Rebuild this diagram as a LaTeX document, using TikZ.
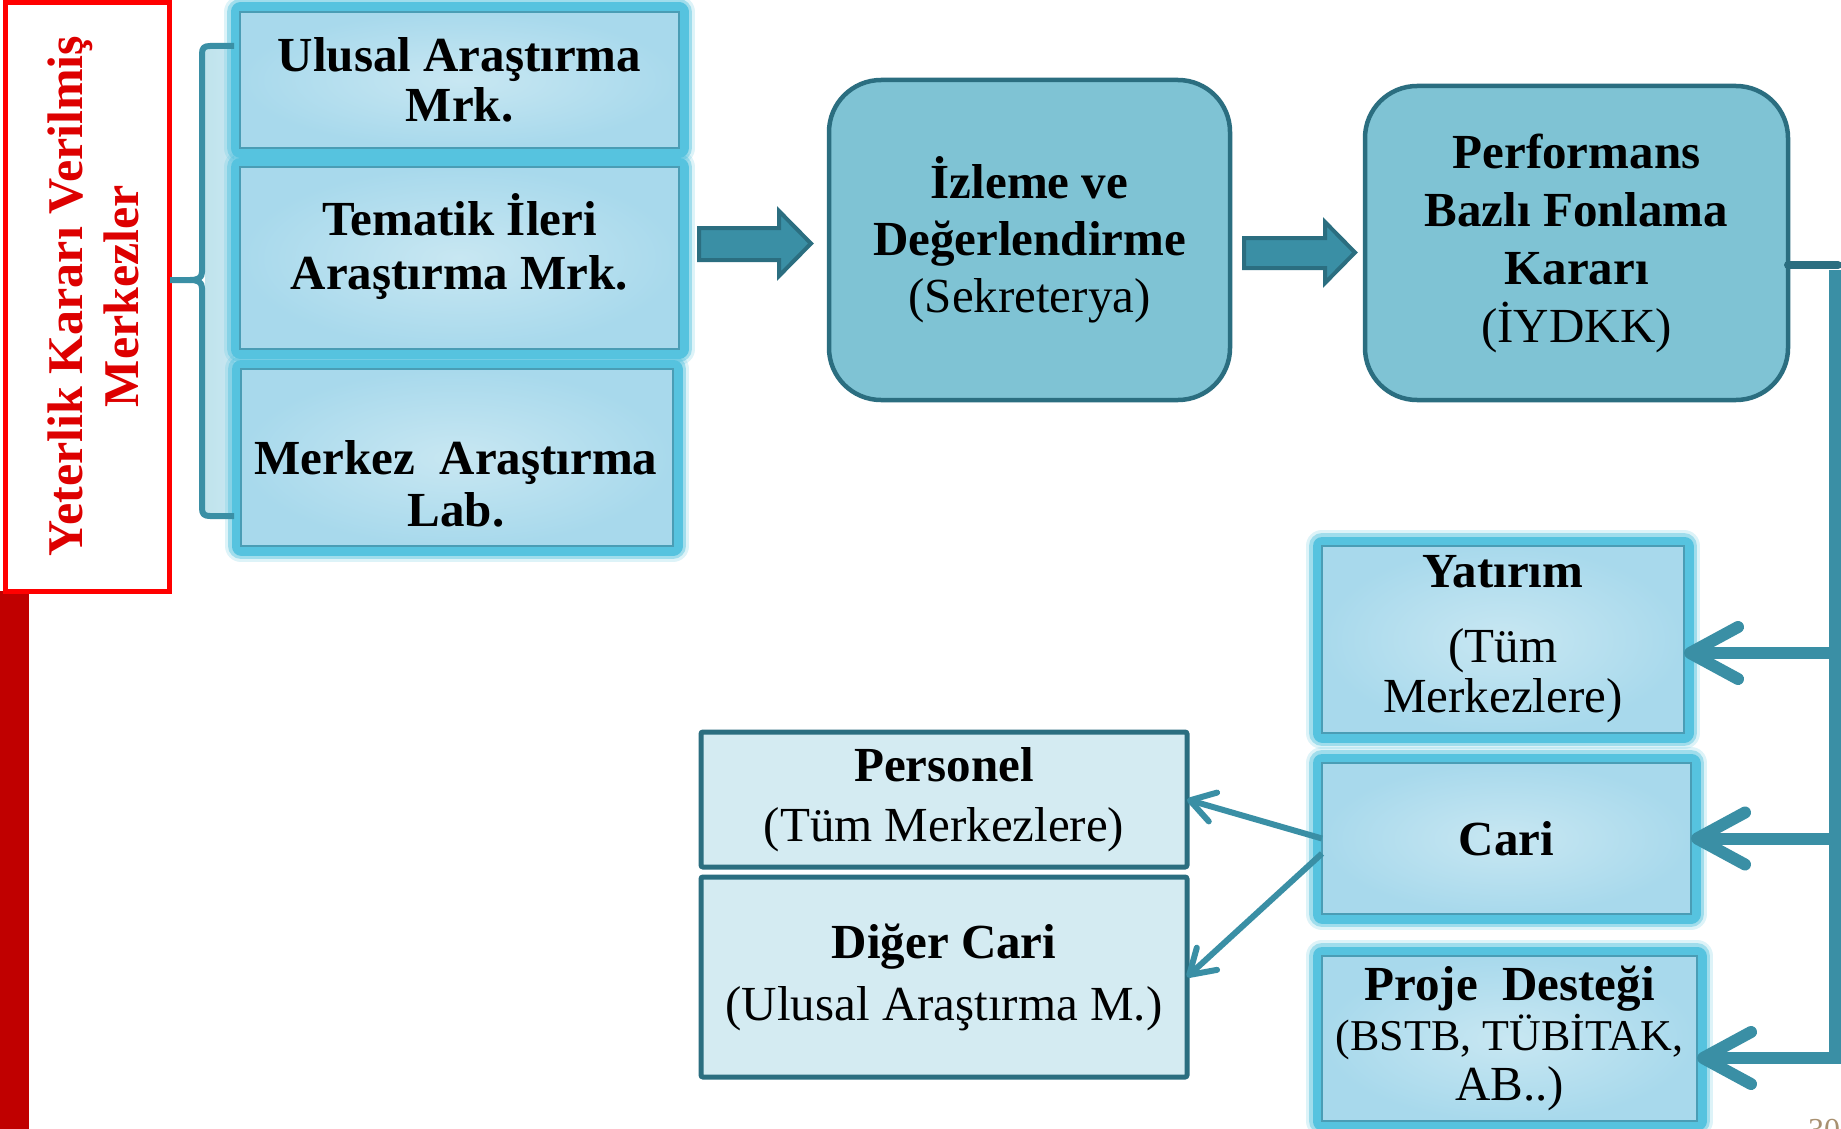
\documentclass[tikz,border=0pt]{standalone}
\usepackage{fontspec}
\setmainfont{Liberation Serif}
\usetikzlibrary{arrows.meta,backgrounds}

\definecolor{teala}{HTML}{3A8FA5}
\definecolor{tealb}{HTML}{2B6E80}
\definecolor{roundfill}{HTML}{7FC3D4}
\definecolor{glowc}{HTML}{56C3DF}
\definecolor{boxin}{HTML}{C8E7F2}
\definecolor{boxout}{HTML}{A8D9EC}
\definecolor{boxedge}{HTML}{4A9DB5}
\definecolor{palefill}{HTML}{D4EBF2}
\definecolor{redtext}{HTML}{DD0000}
\definecolor{redbar}{HTML}{C00000}
\definecolor{bracefill}{HTML}{BFE3EC}
\definecolor{pagenum}{HTML}{A89070}

\tikzset{
  glowbox/.style={rectangle, inner sep=0pt, outer sep=0pt, draw=boxedge, line width=1.5pt,
    inner color=boxin, outer color=boxout, align=center,
    font=\fontsize{49}{50}\selectfont},
  plaintext/.style={inner sep=0pt, align=center, font=\fontsize{49}{50}\selectfont},
  roundbox/.style={rectangle, rounded corners=52pt, draw=tealb, line width=4.5pt,
    fill=roundfill, inner sep=0pt, outer sep=0pt, align=center},
  palebox/.style={rectangle, rounded corners=2pt, draw=tealb, line width=5pt,
    fill=palefill, inner sep=0pt, outer sep=0pt, align=center},
  blockarr/.style={fill=teala, draw=tealb, line width=4pt, line join=miter},
  glowa/.style={draw=glowc, line width=32pt, draw opacity=0.2, line join=round},
  glowb/.style={draw=glowc, line width=26pt, draw opacity=0.45, line join=round},
  glowd/.style={draw=glowc, line width=19pt, line join=round},
  busline/.style={draw=teala, line width=12pt},
  bigarrow/.style={draw=teala, line width=12pt,
    -{Straight Barb[length=48pt, width=52pt, round]}},
  smallarrow/.style={draw=teala, line width=6pt,
    -{Straight Barb[length=24pt, width=30pt, round]}},
}

\begin{document}
\begin{tikzpicture}[x=1pt,y=-1pt]
\useasboundingbox (0,0) rectangle (1841,1129);

% left red side
\fill[redbar] (0,591) rectangle (29,1129);
\node[draw=red, line width=5pt, minimum width=164pt, minimum height=588pt,
      inner sep=0pt, outer sep=0pt] (redbox) at (87,297) {};
\node[rotate=90, align=center, text=redtext, inner sep=0pt,
      font=\bfseries\fontsize{50}{56}\selectfont] (sidetext) at (93,296)
      {Yeterlik Kararı Verilmiş\\Merkezler};

% left boxes
\node[glowbox, minimum width=439pt, minimum height=136pt] (box1) at (459.5,80)
  {\bfseries Ulusal Araştırma\\\bfseries Mrk.};
\node[glowbox, minimum width=439pt, minimum height=182pt] (box2) at (459.5,258) {};
\node[plaintext, font=\bfseries\fontsize{49}{54}\selectfont] (box2t) at (459.5,247)
  {Tematik İleri\\Araştırma Mrk.};
\node[glowbox, minimum width=432pt, minimum height=177pt] (box3) at (457,457.5) {};
\node[plaintext, font=\bfseries\fontsize{49}{52}\selectfont] (box3t) at (456,484)
  {Merkez\ \ Araştırma\\Lab.};

% rounded process boxes
\node[roundbox, minimum width=401pt, minimum height=320pt,
      font=\fontsize{49}{57}\selectfont] (izl) at (1029.5,240)
  {\textbf{İzleme ve}\\\textbf{Değerlendirme}\\(Sekreterya)};
\node[roundbox, minimum width=423pt, minimum height=314pt,
      font=\fontsize{49}{58}\selectfont] (perf) at (1576.5,243)
  {\textbf{Performans}\\\textbf{Bazlı Fonlama}\\\textbf{Kararı}\\(İYDKK)};

% right column boxes
\node[glowbox, minimum width=362pt, minimum height=187pt] (yat) at (1503,639.5)
  {\textbf{Yatırım}\\[25pt](Tüm\\Merkezlere)};
\node[glowbox, minimum width=369pt, minimum height=151pt] (cari) at (1506.5,838.5)
  {\textbf{Cari}};
\node[glowbox, minimum width=375pt, minimum height=165pt] (proje) at (1509.5,1038.5)
  {\textbf{Proje\ \ Desteği}\\{\fontsize{44}{50}\selectfont(BSTB, TÜBİTAK,}\\AB..)};

% pale boxes
\node[palebox, minimum width=486pt, minimum height=135pt,
      font=\fontsize{49}{60}\selectfont] (personel) at (944,799.5)
  {\textbf{Personel}\\(Tüm Merkezlere)};
\node[palebox, minimum width=486pt, minimum height=200pt,
      font=\fontsize{49}{62}\selectfont] (diger) at (944,977)
  {\textbf{Diğer Cari}\\(Ulusal Araştırma M.)};

% page number (clipped by the page edge, as in the slide)
\node[anchor=north west, inner sep=0pt, text=pagenum,
      font=\fontsize{32}{32}\selectfont] (pnum) at (1808,1119) {30};

% white page, glows and brace fill behind everything
\begin{pgfonlayer}{background}
  \fill[white] (0,0) rectangle (1841,1129);
  \fill[left color=bracefill, right color=boxin] (205,49) rectangle (234,513);
  \foreach \n in {box1,box2,box3,yat,cari,proje}{
    \path[glowa] (\n.south west) rectangle (\n.north east);
    \path[glowb] (\n.south west) rectangle (\n.north east);
    \path[glowd] (\n.south west) rectangle (\n.north east);
  }
\end{pgfonlayer}

% brace
\draw[teala, line width=6pt, line join=round, line cap=butt]
  (234,46) -- (210,46) .. controls (204,46) and (202,48) .. (202,54)
  -- (202,272) .. controls (202,278) and (198,280) .. (190,280) -- (170,280);
\draw[teala, line width=6pt, line join=round, line cap=butt]
  (190,280) .. controls (198,280) and (202,282) .. (202,288)
  -- (202,508) .. controls (202,514) and (204,516) .. (210,516) -- (234,516);

% block arrows
\draw[blockarr] (699,228) -- (779,228) -- (779,211) -- (811,243.5) -- (779,276)
  -- (779,260) -- (699,260) -- cycle;
\draw[blockarr] (1244,238) -- (1325,238) -- (1325,222) -- (1355,252.5) -- (1325,283)
  -- (1325,268) -- (1244,268) -- cycle;

% bus from Performans box
\coordinate (bustop) at (1835,266);
\coordinate (busbot) at (1835,1058);
\coordinate (bra) at (1835,653);
\coordinate (brb) at (1835,838.5);
\draw[tealb, line width=8pt, line cap=round] ([yshift=-22pt]perf.east) -- (1838,265);
\draw[busline] (1835,270) -- (1835,1064);
\draw[bigarrow] (bra) -- (bra -| yat.east);
\draw[bigarrow] (brb) -- (brb -| cari.east);
\draw[bigarrow] ([xshift=6pt]busbot) -- (busbot -| proje.east);

% Cari to sub boxes
\draw[smallarrow] (cari.west) -- (personel.east);
\draw[smallarrow] ([yshift=-15pt]cari.west) -- (diger.east);
\end{tikzpicture}
\end{document}
